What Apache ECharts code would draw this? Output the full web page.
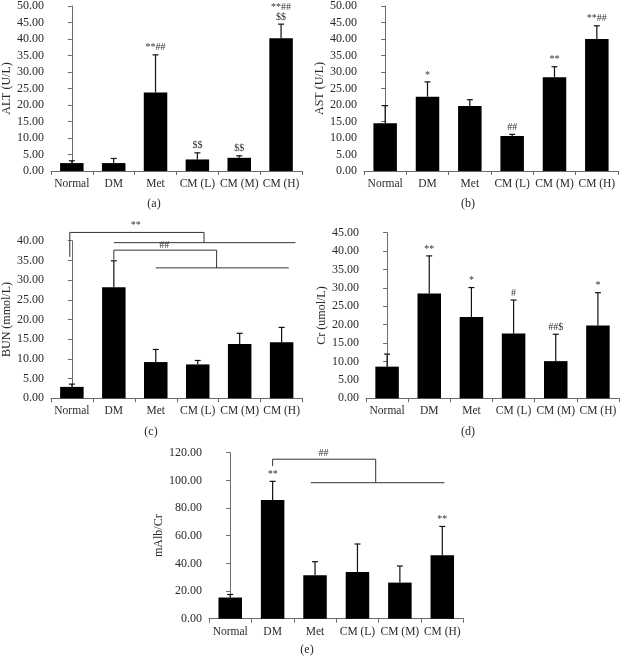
<!DOCTYPE html>
<html><head><meta charset="utf-8">
<script src="https://cdn.jsdelivr.net/npm/echarts@6/dist/echarts.min.js"></script>
<style>html,body{margin:0;padding:0;background:#fff}#c{width:620px;height:657px}</style>
</head><body><div id="c"></div>
<script>
const categories = ['Normal','DM','Met','CM (L)','CM (M)','CM (H)'];
// panel (a) ALT
const altMean = [2.4, 2.4, 23.8, 3.5, 4.0, 40.2];
const altSD   = [0.7, 1.4, 11.4, 2.0, 0.6, 4.3];
const altSig  = ['', '', '**##', '$$', '$$', '**##\n$$'];
// panel (b) AST
const astMean = [14.5, 22.5, 19.7, 10.6, 28.4, 40.0];
const astSD   = [5.3, 4.5, 1.9, 0.5, 3.2, 4.0];
const astSig  = ['', '*', '', '##', '**', '**##'];
// panel (c) BUN
const bunMean = [2.9, 28.2, 9.2, 8.6, 13.8, 14.2];
const bunSD   = [0.7, 6.7, 3.2, 1.0, 2.7, 3.8];
const bunSig  = ['', '', '', '', '', ''];
// panel (d) Cr
const crMean = [8.6, 28.5, 22.1, 17.6, 10.1, 19.8];
const crSD   = [3.4, 10.2, 8.0, 9.1, 7.3, 8.9];
const crSig  = ['', '**', '*', '#', '##$', '*'];
// panel (e) mAlb/Cr
const malbMean = [15.3, 85.8, 31.4, 33.8, 26.1, 45.8];
const malbSD   = [2.2, 13.5, 9.8, 20.2, 12.0, 20.9];
const malbSig  = ['', '**', '', '', '', '**'];
// comparison brackets (x in category-index units, y in data units)
const bunBrackets = [
  [[-0.05, 35.9], [-0.05, 42.1], [3.15, 42.1], [3.15, 39.5]],
  [[1.0, 39.5], [5.33, 39.5]],
  [[1.0, 35.2], [1.0, 37.6], [3.45, 37.6], [3.45, 33.1]],
  [[2.0, 33.1], [5.17, 33.1]]
];
const bunBracketText = [['**', 1.52, 44.0], ['##', 2.2, 38.7]];
const malbBrackets = [
  [[1.0, 110.4], [1.0, 115.3], [3.43, 115.3], [3.43, 98.3]],
  [[1.9, 98.3], [5.05, 98.3]]
];
const malbBracketText = [['##', 2.2, 119.6]];

const panels = [
  {name:'ALT (U/L)', mean:altMean, sd:altSD, sig:altSig, max:50, interval:5, grid:{left:49, top:4, width:253, height:167}, gap:35, tag:'(a)', tagPos:[154,204]},
  {name:'AST (U/L)', mean:astMean, sd:astSD, sig:astSig, max:50, interval:5, grid:{left:364, top:4, width:254, height:167}, gap:37, tag:'(b)', tagPos:[468,204]},
  {name:'BUN (mmol/L)', mean:bunMean, sd:bunSD, sig:bunSig, max:40, interval:5, grid:{left:50, top:240.7, width:252.6, height:157.6}, gap:36, tag:'(c)', tagPos:[151,432], brackets:bunBrackets, btext:bunBracketText},
  {name:'Cr (umol/L)', mean:crMean, sd:crSD, sig:crSig, max:45, interval:5, grid:{left:366, top:232.7, width:253, height:165.6}, gap:35, tag:'(d)', tagPos:[468,432]},
  {name:'mAlb/Cr', mean:malbMean, sd:malbSD, sig:malbSig, max:120, interval:20, grid:{left:209, top:452.7, width:254.5, height:166}, gap:35, tag:'(e)', tagPos:[307,650], brackets:malbBrackets, btext:malbBracketText}
];

const FONT = '"Liberation Serif", "Times New Roman", serif';
const AXIS = '#6b6b6b';
const TXT = '#2a2a2a';
const option = {animation:false, backgroundColor:'#fff', grid:[], xAxis:[], yAxis:[], series:[], graphic:[]};

panels.forEach((p, k) => {
  option.grid.push(p.grid);
  option.xAxis.push({type:'category', gridIndex:k, data:categories,
    axisLine:{lineStyle:{color:AXIS, width:1}},
    axisTick:{show:true, length:4, lineStyle:{color:AXIS}},
    axisLabel:{interval:0, hideOverlap:false, color:TXT, fontFamily:FONT, fontSize:11.5, margin:7}});
  option.xAxis.push({type:'value', gridIndex:k, min:-0.5, max:5.5, show:false});
  option.yAxis.push({type:'value', gridIndex:k, min:0, max:p.max, interval:p.interval,
    name:p.name, nameLocation:'middle', nameGap:p.gap, nameRotate:90,
    nameTextStyle:{color:TXT, fontFamily:FONT, fontSize:12},
    axisLine:{show:true, lineStyle:{color:AXIS, width:1}},
    axisTick:{show:true, length:4, lineStyle:{color:AXIS}},
    splitLine:{show:false},
    axisLabel:{color:TXT, fontFamily:FONT, fontSize:12, margin:7, formatter:v => v.toFixed(2)}});
  option.series.push({type:'bar', xAxisIndex:2*k, yAxisIndex:k, data:p.mean, barWidth:23.5,
    itemStyle:{color:'#000'}});
  option.series.push({type:'custom', xAxisIndex:2*k, yAxisIndex:k,
    data:p.mean.map((m,i)=>[i, m, m + p.sd[i]]),
    renderItem:(params, api) => {
      const b = api.coord([api.value(0), api.value(1)]);
      const t = api.coord([api.value(0), api.value(2)]);
      const i = params.dataIndex;
      const ch = [
        {type:'line', shape:{x1:b[0], y1:b[1], x2:t[0], y2:t[1]}, style:{stroke:'#111', lineWidth:1.2}},
        {type:'line', shape:{x1:t[0]-3, y1:t[1], x2:t[0]+3, y2:t[1]}, style:{stroke:'#111', lineWidth:1.2}}
      ];
      if (p.sig[i]) ch.push({type:'text', x:t[0], y:t[1]-2,
        style:{text:p.sig[i], fill:'#333', font:'10px ' + FONT, textAlign:'center', textVerticalAlign:'bottom', lineHeight:10}});
      return {type:'group', children:ch};
    }});
  if (p.brackets) {
    option.series.push({type:'custom', xAxisIndex:2*k+1, yAxisIndex:k, clip:false,
      data:p.brackets.map((b,i)=>[i]),
      renderItem:(params, api) => {
        const pts = p.brackets[params.dataIndex].map(q => api.coord(q));
        return {type:'polyline', shape:{points:pts}, style:{stroke:'#333', lineWidth:1, fill:null}};
      }});
    option.series.push({type:'custom', xAxisIndex:2*k+1, yAxisIndex:k, clip:false,
      data:p.btext.map(b=>[b[1], b[2]]),
      renderItem:(params, api) => {
        const c = api.coord([api.value(0), api.value(1)]);
        return {type:'text', x:c[0], y:c[1], style:{text:p.btext[params.dataIndex][0], fill:'#333', font:'10px ' + FONT, textAlign:'center', textVerticalAlign:'middle'}};
      }});
  }
  option.graphic.push({type:'text', x:p.tagPos[0], y:p.tagPos[1],
    style:{text:p.tag, fill:TXT, font:'12px ' + FONT, textAlign:'center', textVerticalAlign:'middle'}});
});

const chart = echarts.init(document.getElementById('c'), null, {renderer:'canvas'});
chart.setOption(option);
</script></body></html>
